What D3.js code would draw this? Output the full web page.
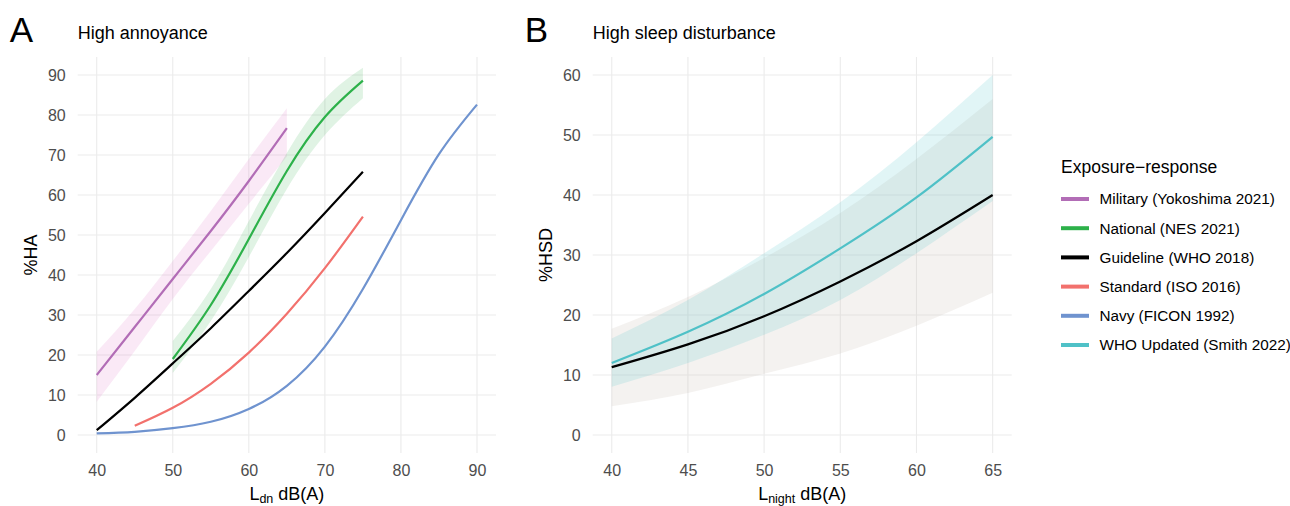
<!DOCTYPE html>
<html>
<head>
<meta charset="utf-8">
<script src="https://cdn.jsdelivr.net/npm/d3@7"></script>
<style>
  body { margin: 0; background: #fff; }
  svg { font-family: "Liberation Sans", Arial, Helvetica, sans-serif; }
</style>
</head>
<body>
<script>
// ---- data ----
// Panel A: high annoyance
var milX  = [40, 45, 50, 55, 60, 65];
var milY  = [15, 27, 39, 51, 63.5, 76.7];
var milLo = [8.3, 21, 34, 46, 57.8, 69.6];
var milHi = [20.8, 31.5, 43.5, 56, 69, 81.7];

var nesX  = [50, 55, 60, 65, 70, 75];
var nesY  = [19, 32.5, 49, 66, 79.5, 88.6];
var nesLo = [15.5, 28.5, 44.5, 61.5, 75, 84.2];
var nesHi = [23.5, 36.5, 53.5, 70.5, 84, 91.8];

var whoX = [40, 45, 50, 55, 60, 65, 70, 75];
var whoY = [1.2, 9.3, 17.9, 26.7, 36.0, 45.5, 55.5, 65.8];

var isoX = [45, 50, 55, 60, 65, 70, 75];
var isoY = [2.3, 6.8, 12.8, 20.6, 30.3, 41.7, 54.6];

var navyX = [40, 45, 50, 55, 60, 65, 70, 75, 80, 85, 90];
var navyY = [0.4, 0.8, 1.7, 3.3, 6.5, 12.3, 22.1, 36.5, 53.7, 70.2, 82.6];

// Panel B: high sleep disturbance
var sleepX    = [40, 45, 50, 55, 60, 65];
var whoSleepY  = [11.3, 15.1, 19.8, 25.6, 32.3, 40.0];
var whoSleepLo = [4.8, 7.0, 10.2, 13.6, 18.2, 23.7];
var whoSleepHi = [17.7, 23, 29.5, 37, 46, 56];
var smithY  = [12, 17.2, 23.5, 31.1, 39.6, 49.7];
var smithLo = [8.05, 12, 16.7, 22.5, 30.3, 39];
var smithHi = [16.1, 22.5, 30.3, 38.8, 48.8, 60];

var haTicksX = [40, 50, 60, 70, 80, 90];
var haTicksY = [0, 10, 20, 30, 40, 50, 60, 70, 80, 90];
var hsdTicksX = [40, 45, 50, 55, 60, 65];
var hsdTicksY = [0, 10, 20, 30, 40, 50, 60];

var seriesNames = ["Military (Yokoshima 2021)", "National (NES 2021)", "Guideline (WHO 2018)",
                   "Standard (ISO 2016)", "Navy (FICON 1992)", "WHO Updated (Smith 2022)"];
var seriesColors = ["#B26DB6", "#2DB14A", "#000000", "#F2716D", "#6F93CF", "#4FC1C7"];

// ---- setup ----
var W = 1290, H = 506;
var svg = d3.select("body").append("svg").attr("width", W).attr("height", H);
var gridColor = "#EBEBEB";
var tickColor = "#4D4D4D";

function zip(xs, ys, lo, hi) {
    return xs.map((x, i) => ({x: x, y: ys[i], lo: lo ? lo[i] : null, hi: hi ? hi[i] : null}));
}

function panel(opt) {
    var x = d3.scaleLinear().domain(opt.xdom).range([opt.left, opt.right]);
    var y = d3.scaleLinear().domain(opt.ydom).range([453, 57]);
    var g = svg.append("g");

    // grid
    g.selectAll(".vg").data(opt.xt).enter().append("line")
        .attr("x1", d => x(d)).attr("x2", d => x(d))
        .attr("y1", 57).attr("y2", 453)
        .attr("stroke", gridColor).attr("stroke-width", 1.1);
    g.selectAll(".hg").data(opt.yt).enter().append("line")
        .attr("x1", opt.left).attr("x2", opt.right)
        .attr("y1", d => y(d)).attr("y2", d => y(d))
        .attr("stroke", gridColor).attr("stroke-width", 1.1);

    // axes (no domain lines, no ticks)
    var xAxis = g.append("g").attr("transform", "translate(0,453)")
        .call(d3.axisBottom(x).tickValues(opt.xt).tickSize(0).tickPadding(12));
    var yAxis = g.append("g").attr("transform", `translate(${opt.left},0)`)
        .call(d3.axisLeft(y).tickValues(opt.yt).tickSize(0).tickPadding(12));
    [xAxis, yAxis].forEach(a => {
        a.select(".domain").remove();
        a.selectAll("text").attr("fill", tickColor).style("font-size", "16px")
            .style("font-family", "\"Liberation Sans\", Arial, sans-serif");
    });

    // titles
    svg.append("text").attr("x", opt.left - 68).attr("y", 42)
        .style("font-size", "35px").text(opt.letter);
    svg.append("text").attr("x", opt.left).attr("y", 39)
        .style("font-size", "18px").text(opt.title);

    svg.append("text")
        .attr("transform", `translate(${opt.left - 41},255) rotate(-90)`)
        .attr("text-anchor", "middle")
        .style("font-size", "18px").text(opt.ytitle);

    var xt = svg.append("text")
        .attr("x", (opt.left + opt.right) / 2).attr("y", 500)
        .attr("text-anchor", "middle").style("font-size", "18px");
    xt.append("tspan").text("L");
    xt.append("tspan").attr("dy", 3).style("font-size", "12.5px").text(opt.sub);
    xt.append("tspan").attr("dy", -3).text(" dB(A)");

    return {x: x, y: y, g: g};
}

function ribbon(p, data, fill, op) {
    var area = d3.area().curve(d3.curveNatural)
        .x(d => p.x(d.x)).y0(d => p.y(d.lo)).y1(d => p.y(d.hi));
    p.g.append("path").datum(data).attr("d", area)
        .attr("fill", fill).attr("fill-opacity", op);
}

function curve(p, data, color) {
    var line = d3.line().curve(d3.curveNatural)
        .x(d => p.x(d.x)).y(d => p.y(d.y));
    p.g.append("path").datum(data).attr("d", line)
        .attr("fill", "none").attr("stroke", color).attr("stroke-width", 2.2)
        .attr("stroke-linecap", "butt");
}

// ---- panel A ----
var pA = panel({left: 77.7, right: 496, xdom: [37.5, 92.5], ydom: [-4.5, 94.5],
    xt: haTicksX, yt: haTicksY, letter: "A", title: "High annoyance", ytitle: "%HA", sub: "dn"});

ribbon(pA, zip(milX, milY, milLo, milHi), "#E07BC8", 0.17);
ribbon(pA, zip(nesX, nesY, nesLo, nesHi), "#2DB14A", 0.15);
curve(pA, zip(navyX, navyY), seriesColors[4]);
curve(pA, zip(isoX, isoY), seriesColors[3]);
curve(pA, zip(whoX, whoY), seriesColors[2]);
curve(pA, zip(nesX, nesY), seriesColors[1]);
curve(pA, zip(milX, milY), seriesColors[0]);

// ---- panel B ----
var pB = panel({left: 592.7, right: 1011.7, xdom: [38.75, 66.25], ydom: [-3, 63],
    xt: hsdTicksX, yt: hsdTicksY, letter: "B", title: "High sleep disturbance", ytitle: "%HSD", sub: "night"});

ribbon(pB, zip(sleepX, whoSleepY, whoSleepLo, whoSleepHi), "#C9BFB4", 0.2);
ribbon(pB, zip(sleepX, smithY, smithLo, smithHi), "#4FC1C7", 0.17);
curve(pB, zip(sleepX, whoSleepY), seriesColors[2]);
curve(pB, zip(sleepX, smithY), seriesColors[5]);

// ---- legend ----
var lg = svg.append("g");
lg.append("text").attr("x", 1061).attr("y", 173).style("font-size", "17.5px")
    .text("Exposure\u2212response");
var items = lg.selectAll(".item").data(seriesNames).enter().append("g")
    .attr("transform", (d, i) => `translate(1061,${199 + i * 29.2})`);
items.append("line").attr("x1", 0).attr("x2", 28).attr("y1", 0).attr("y2", 0)
    .attr("stroke", (d, i) => seriesColors[i]).attr("stroke-width", 4);
items.append("text").attr("x", 38.5).attr("y", 0).attr("dy", "0.35em")
    .style("font-size", "15.3px").text(d => d);
</script>
</body>
</html>
